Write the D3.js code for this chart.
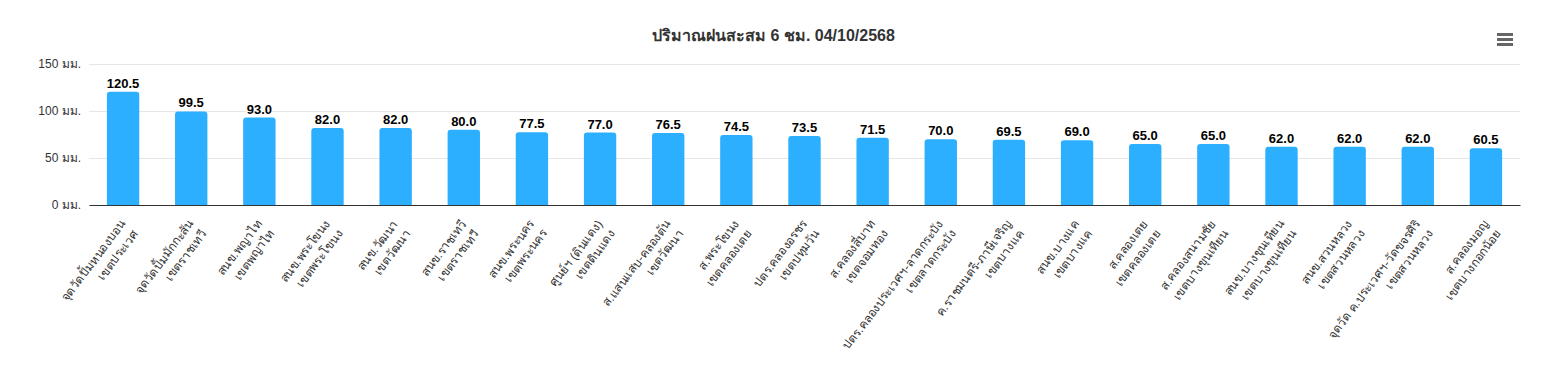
<!DOCTYPE html>
<html>
<head>
<meta charset="utf-8">
<script src="https://cdn.jsdelivr.net/npm/d3@7"></script>
<style>
  html, body { margin: 0; padding: 0; background: #fff; }
  svg { display: block; font-family: "Helvetica", "Arial", "Liberation Sans", sans-serif; }
</style>
</head>
<body>
<svg id="chart" width="1547" height="382"></svg>
<script>
const title = "ปริมาณฝนสะสม 6 ชม. 04/10/2568";
const stations = [
  "จุดวัดปั้มหนองบอน", "จุดวัดปั้มมักกะสัน", "สนข.พญาไท", "สนข.พระโขนง", "สนข.วัฒนา",
  "สนข.ราชเทวี", "สนข.พระนคร", "ศูนย์ฯ (ดินแดง)", "ส.แสนแสบ-คลองตัน", "ส.พระโขนง",
  "ปตร.คลองอรชร", "ส.คลองสี่บาท", "ปตร.คลองประเวศฯ-ลาดกระบัง", "ค.ราชมนตรี-ภาษีเจริญ", "สนข.บางแค",
  "ส.คลองเตย", "ส.คลองสนามชัย", "สนข.บางขุนเทียน", "สนข.สวนหลวง", "จุดวัด ค.ประเวศฯ-วัดขจรศิริ",
  "ส.คลองมอญ"
];
const districts = [
  "เขตประเวศ", "เขตราชเทวี", "เขตพญาไท", "เขตพระโขนง", "เขตวัฒนา",
  "เขตราชเทวี", "เขตพระนคร", "เขตดินแดง", "เขตวัฒนา", "เขตคลองเตย",
  "เขตปทุมวัน", "เขตจอมทอง", "เขตลาดกระบัง", "เขตบางแค", "เขตบางแค",
  "เขตคลองเตย", "เขตบางขุนเทียน", "เขตบางขุนเทียน", "เขตสวนหลวง", "เขตสวนหลวง",
  "เขตบางกอกน้อย"
];
const rainfall = [120.5, 99.5, 93.0, 82.0, 82.0, 80.0, 77.5, 77.0, 76.5, 74.5,
                  73.5, 71.5, 70.0, 69.5, 69.0, 65.0, 65.0, 62.0, 62.0, 62.0, 60.5];
const yTicks = [0, 50, 100, 150];
const yUnit = " มม.";

const data = stations.map((s, i) => ({ key: i, station: s, district: districts[i], value: rainfall[i] }));

const svg = d3.select("#chart");
const plot = { left: 89, right: 1520, top: 64, bottom: 205 };

const x = d3.scaleBand()
  .domain(data.map(d => d.key))
  .range([plot.left, plot.right])
  .paddingInner(0.525)
  .paddingOuter(0.2625);

const y = d3.scaleLinear().domain([0, 150]).range([plot.bottom, plot.top]);

// Title
svg.append("text")
  .attr("x", 1547 / 2).attr("y", 41)
  .attr("text-anchor", "middle")
  .attr("font-size", 16).attr("font-weight", "bold")
  .attr("fill", "#333333")
  .text(title);

// Menu icon
[34.5, 39.5, 44.5].forEach(yy => {
  svg.append("line")
    .attr("x1", 1497).attr("x2", 1513).attr("y1", yy).attr("y2", yy)
    .attr("stroke", "#666666").attr("stroke-width", 3);
});

// Grid lines
const yAxis = d3.axisLeft(y).tickValues(yTicks).tickSize(-(plot.right - plot.left)).tickFormat(d => d + yUnit);
const gy = svg.append("g").attr("transform", `translate(${plot.left},0)`).call(yAxis);
gy.select(".domain").remove();
gy.selectAll(".tick line").attr("stroke", "#e6e6e6");
gy.selectAll(".tick text")
  .attr("x", -8).attr("dy", "0.32em")
  .attr("font-size", 12).attr("fill", "#333333")
  .attr("font-family", "Helvetica, Arial, 'Liberation Sans', sans-serif");

// Bars with rounded top corners
const r = 3;
svg.append("g").selectAll("path").data(data).enter().append("path")
  .attr("fill", "#2caffe")
  .attr("d", d => {
    const x0 = x(d.key), w = x.bandwidth(), y0 = y(d.value), yb = y(0);
    return `M${x0},${yb} L${x0},${y0 + r} Q${x0},${y0} ${x0 + r},${y0} L${x0 + w - r},${y0} Q${x0 + w},${y0} ${x0 + w},${y0 + r} L${x0 + w},${yb} Z`;
  });

// Data labels
svg.append("g").selectAll("text").data(data).enter().append("text")
  .attr("x", d => x(d.key) + x.bandwidth() / 2)
  .attr("y", d => y(d.value) - 4)
  .attr("text-anchor", "middle")
  .attr("font-size", 13).attr("font-weight", "bold")
  .attr("fill", "#000000")
  .attr("stroke", "#ffffff").attr("stroke-width", 2).attr("paint-order", "stroke")
  .text(d => d.value.toFixed(1));

// X axis line
const xAxis = d3.axisBottom(x).tickSize(0).tickFormat(() => "");
const gx = svg.append("g").attr("transform", `translate(0,${plot.bottom})`).call(xAxis);
gx.select(".domain").attr("stroke", "#333333").attr("stroke-width", 1);

// X labels (two lines, rotated)
const lbl = svg.append("g").selectAll("g").data(data).enter().append("g")
  .attr("transform", d => `translate(${x(d.key) + x.bandwidth() / 2 + 3},${plot.bottom + 19}) rotate(-53)`);
const t = lbl.append("text")
  .attr("text-anchor", "end")
  .attr("font-size", 12).attr("fill", "#333333");
t.append("tspan").attr("x", 0).attr("y", 0).text(d => d.station);
t.append("tspan").attr("x", 0).attr("y", 16).text(d => d.district);
</script>
</body>
</html>
